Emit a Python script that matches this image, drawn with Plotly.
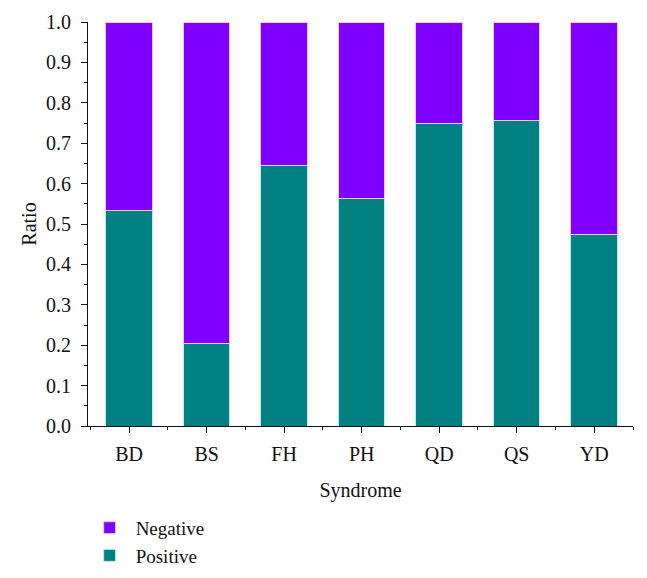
import plotly.graph_objects as go

categories = ["BD", "BS", "FH", "PH", "QD", "QS", "YD"]
positive = [0.534, 0.204, 0.646, 0.564, 0.749, 0.756, 0.475]
negative = [round(1 - p, 3) for p in positive]
y_ticks = [0.0, 0.1, 0.2, 0.3, 0.4, 0.5, 0.6, 0.7, 0.8, 0.9, 1.0]

xpos = list(range(len(categories)))
font = "Liberation Serif, Times New Roman, serif"

fig = go.Figure()
fig.add_trace(go.Bar(x=xpos, y=positive, name="Positive", width=0.6,
                     marker=dict(color="#008080", line=dict(color="#b8eef0", width=1))))
fig.add_trace(go.Bar(x=xpos, y=negative, name="Negative", width=0.6,
                     marker=dict(color="#8000ff", line=dict(color="#f0c8ff", width=1))))

fig.update_layout(
    barmode="stack",
    width=647, height=578,
    margin=dict(l=80, r=22, t=14, b=160, autoexpand=False),
    plot_bgcolor="white", paper_bgcolor="white",
    font=dict(family=font, size=20, color="#111"),
    showlegend=True,
    legend=dict(traceorder="reversed", x=-0.008, y=-0.205, xanchor="left", yanchor="top",
                font=dict(size=19), itemwidth=42, tracegroupgap=0),
    xaxis=dict(
        range=[-0.53, 6.5], tickvals=xpos, ticktext=categories,
        showline=True, linecolor="#111", linewidth=1.2,
        ticks="outside", ticklen=6, tickcolor="#111", ticklabelstandoff=4,
        minor=dict(tickmode="linear", tick0=0.5, dtick=1, ticks="outside", ticklen=3, tickcolor="#111"),
        showgrid=False, zeroline=False,
        title=dict(text="Syndrome", standoff=18, font=dict(size=20)),
    ),
    yaxis=dict(
        range=[0, 1.0], tickvals=y_ticks, ticktext=[f"{v:.1f}" for v in y_ticks],
        showline=True, linecolor="#111", linewidth=1.2,
        ticks="outside", ticklen=6, tickcolor="#111", ticklabelstandoff=6,
        minor=dict(tickmode="linear", tick0=0.05, dtick=0.1, ticks="outside", ticklen=3, tickcolor="#111"),
        showgrid=False, zeroline=False,
        title=dict(text="Ratio", standoff=3, font=dict(size=20)),
    ),
)

fig.write_html("out.html")
